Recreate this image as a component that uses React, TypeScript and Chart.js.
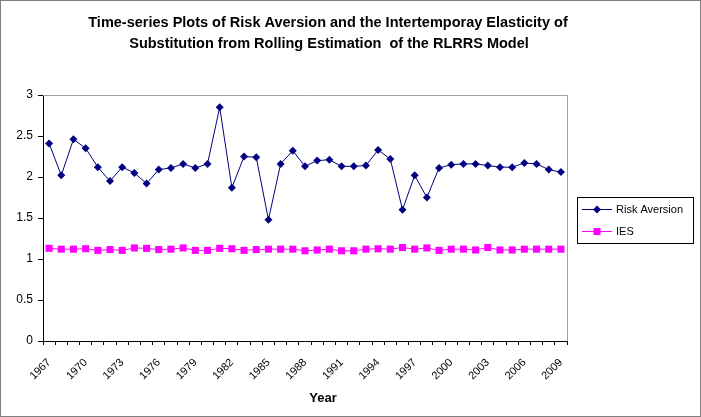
import React, { useEffect, useRef } from 'react';
import { Chart, registerables } from 'chart.js';
Chart.register(...registerables);

const years = ['1967','1968','1969','1970','1971','1972','1973','1974','1975','1976','1977','1978','1979','1980','1981','1982','1983','1984','1985','1986','1987','1988','1989','1990','1991','1992','1993','1994','1995','1996','1997','1998','1999','2000','2001','2002','2003','2004','2005','2006','2007','2008','2009'];

const riskAversion = [2.41, 2.02, 2.46, 2.35, 2.12, 1.95, 2.12, 2.05, 1.92, 2.09, 2.11, 2.16, 2.11, 2.16, 2.85, 1.87, 2.25, 2.24, 1.48, 2.16, 2.32, 2.13, 2.20, 2.21, 2.13, 2.13, 2.14, 2.33, 2.22, 1.60, 2.02, 1.75, 2.11, 2.15, 2.16, 2.16, 2.14, 2.12, 2.12, 2.17, 2.16, 2.09, 2.06];

const ies = [1.13, 1.12, 1.12, 1.125, 1.105, 1.115, 1.105, 1.135, 1.13, 1.115, 1.12, 1.135, 1.105, 1.105, 1.13, 1.125, 1.105, 1.115, 1.12, 1.12, 1.12, 1.10, 1.11, 1.12, 1.10, 1.10, 1.12, 1.125, 1.12, 1.14, 1.12, 1.135, 1.105, 1.12, 1.12, 1.11, 1.14, 1.11, 1.11, 1.12, 1.12, 1.12, 1.12];

const titleLines = [
  'Time-series Plots of Risk Aversion and the Intertemporay Elasticity of',
  'Substitution from Rolling Estimation  of the RLRRS Model',
];
const xTitle = 'Year';
const seriesNames = ['Risk Aversion', 'IES'];
const colors = ['#000080', '#FF00FF'];

const FAMILY = '"Liberation Sans", Arial, sans-serif';

function drawMarker(ctx: CanvasRenderingContext2D, kind: string, x: number, y: number, r: number, color: string) {
  ctx.save();
  ctx.fillStyle = color;
  ctx.beginPath();
  if (kind === 'diamond') {
    ctx.moveTo(x, y - r);
    ctx.lineTo(x + r, y);
    ctx.lineTo(x, y + r);
    ctx.lineTo(x - r, y);
    ctx.closePath();
  } else {
    ctx.rect(x - r, y - r, 2 * r, 2 * r);
  }
  ctx.fill();
  ctx.restore();
}

export default function App() {
  const ref = useRef<HTMLCanvasElement>(null);
  useEffect(() => {
    document.body.style.margin = '0';
    const deco = {
      id: 'deco',
      beforeDatasetsDraw(chart: any) {
        const { ctx, chartArea } = chart;
        ctx.save();
        ctx.strokeStyle = '#a0a0a0';
        ctx.lineWidth = 1;
        ctx.beginPath();
        ctx.moveTo(chartArea.left, Math.round(chartArea.top) + 0.5);
        ctx.lineTo(Math.round(chartArea.right) + 0.5, Math.round(chartArea.top) + 0.5);
        ctx.lineTo(Math.round(chartArea.right) + 0.5, chartArea.bottom);
        ctx.stroke();
        ctx.restore();
      },
      afterDraw(chart: any) {
        const { ctx } = chart;
        ctx.save();
        // outer frame
        ctx.strokeStyle = '#808080';
        ctx.lineWidth = 1;
        ctx.strokeRect(0.5, 0.5, 700, 416);
        // title
        ctx.fillStyle = '#000';
        ctx.textAlign = 'center';
        ctx.textBaseline = 'middle';
        ctx.font = `bold 14.5px ${FAMILY}`;
        ctx.fillText(titleLines[0], 328, 23);
        ctx.fillText(titleLines[1], 329, 44);
        // x title
        ctx.font = `bold 13px ${FAMILY}`;
        ctx.fillText(xTitle, 323, 398);
        // legend
        ctx.strokeStyle = '#000';
        ctx.strokeRect(577.5, 197.5, 116, 46);
        ctx.textAlign = 'left';
        ctx.font = `11px ${FAMILY}`;
        const rows = [209, 231];
        rows.forEach((y, i) => {
          ctx.strokeStyle = colors[i];
          ctx.lineWidth = 1;
          ctx.beginPath();
          ctx.moveTo(582, y + 0.5);
          ctx.lineTo(612, y + 0.5);
          ctx.stroke();
          drawMarker(ctx, i === 0 ? 'diamond' : 'square', 597, y + 0.5, i === 0 ? 4 : 3.5, colors[i]);
          ctx.fillStyle = '#000';
          ctx.fillText(seriesNames[i], 616, y + 1);
        });
        ctx.restore();
      },
    };
    const chart = new Chart(ref.current as HTMLCanvasElement, {
      type: 'line',
      data: {
        labels: years,
        datasets: [
          {
            label: seriesNames[0],
            data: riskAversion,
            borderColor: colors[0],
            backgroundColor: colors[0],
            borderWidth: 1,
            pointStyle: 'rectRot',
            pointRadius: 4,
            pointBorderWidth: 0,
            tension: 0,
          },
          {
            label: seriesNames[1],
            data: ies,
            borderColor: colors[1],
            backgroundColor: colors[1],
            borderWidth: 1,
            pointStyle: 'rect',
            pointRadius: 5,
            pointBorderWidth: 0,
            tension: 0,
          },
        ],
      },
      options: {
        responsive: false,
        animation: false,
        layout: { padding: { left: 0, top: 95, right: 134, bottom: 0 } },
        plugins: {
          legend: { display: false },
          title: { display: false },
          tooltip: { enabled: false },
        },
        scales: {
          x: {
            type: 'category',
            offset: true,
            grid: { display: true, drawOnChartArea: false, drawTicks: true, tickLength: 4, color: '#000', offset: true },
            border: { display: true, color: '#000', width: 1 },
            ticks: {
              autoSkip: false,
              maxRotation: 45,
              minRotation: 45,
              padding: 11,
              color: '#000',
              font: { size: 11, family: FAMILY },
              callback: (_v: any, i: number) => (i % 3 === 0 ? years[i] : ''),
            },
            afterFit: (s: any) => { s.height = 76; },
          },
          y: {
            min: 0,
            max: 3,
            grid: { display: true, drawOnChartArea: false, drawTicks: true, tickLength: 5, color: '#000' },
            border: { display: true, color: '#000', width: 1 },
            ticks: {
              stepSize: 0.5,
              padding: 5,
              color: '#000',
              font: { size: 12, family: FAMILY },
              callback: (v: any) => String(v),
            },
            afterFit: (s: any) => { s.width = 43; },
          },
        },
      },
      plugins: [deco],
    });
    return () => chart.destroy();
  }, []);
  return (
    <div style={{ width: 701, height: 417 }}>
      <canvas ref={ref} width={701} height={417} style={{ display: 'block' }} />
    </div>
  );
}
